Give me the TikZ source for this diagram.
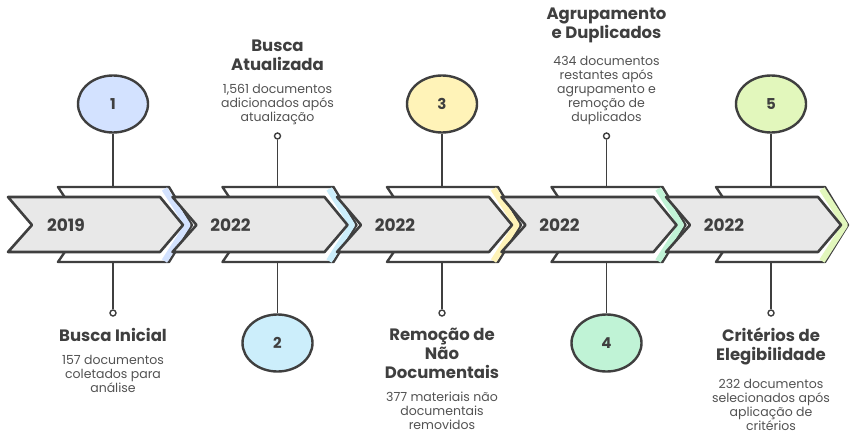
\documentclass[tikz,border=0pt]{standalone}
\usepackage{fontspec}
\setmainfont{Poppins}
\usetikzlibrary{shapes.geometric,positioning}
\definecolor{ink}{HTML}{3F3F3F}
\definecolor{bandgray}{HTML}{E8E8E8}
\definecolor{blueone}{HTML}{D3E2FF}
\definecolor{bluetwo}{HTML}{CCEEFB}
\definecolor{yellowthree}{HTML}{FFF3B8}
\definecolor{mintfour}{HTML}{C0F3D6}
\definecolor{limefive}{HTML}{E2F7BC}

\begin{document}
\begin{tikzpicture}[x=1pt,y=-1pt,
    bandback/.style={draw=ink,line width=2.4pt,fill=white,line join=round},
    bandfront/.style={draw=ink,line width=2.6pt,fill=bandgray,line join=round},
    accent/.style={line width=6pt,line join=round},
    yearlabel/.style={text=ink,font=\bfseries\fontsize{17}{20}\selectfont},
    stepcircle/.style={ellipse,draw=ink,line width=2.4pt,minimum width=70pt,minimum height=57pt,inner sep=0pt,text=ink,font=\bfseries\fontsize{15}{17}\selectfont},
    pin/.style={circle,draw=ink,line width=1.4pt,fill=white,minimum size=6pt,inner sep=0pt},
    stemline/.style={draw=ink,line width=1.5pt},
    steptitle/.style={align=center,inner sep=0pt,text=ink,font=\bfseries\fontsize{16.5}{19}\selectfont},
    stepnote/.style={align=center,inner sep=0pt,text=ink!90,font=\fontsize{12.5}{14}\selectfont},
    node distance=13pt]
    \useasboundingbox (0,0) rectangle (850,433);

    \draw[bandback] (58,187) -- (169,187) -- (192,225) -- (169,262) -- (58,262) -- (83,225) -- cycle;
    \draw[accent,draw=blueone] (164.5,189) -- (187.5,225) -- (164.5,261);
    \draw[bandfront] (8,197) -- (160,197) -- (183,225) -- (160,252) -- (8,252) -- (32,225) -- cycle;
    \node[yearlabel] (y1) at (66,225) {2019};

    \draw[bandback] (222.5,187) -- (333.5,187) -- (356.5,225) -- (333.5,262) -- (222.5,262) -- (247.5,225) -- cycle;
    \draw[accent,draw=bluetwo] (329,189) -- (352,225) -- (329,261);
    \draw[bandfront] (172.5,197) -- (324.5,197) -- (347.5,225) -- (324.5,252) -- (172.5,252) -- (196.5,225) -- cycle;
    \node[yearlabel] (y2) at (230.5,225) {2022};

    \draw[bandback] (387,187) -- (498,187) -- (521,225) -- (498,262) -- (387,262) -- (412,225) -- cycle;
    \draw[accent,draw=yellowthree] (493.5,189) -- (516.5,225) -- (493.5,261);
    \draw[bandfront] (337,197) -- (489,197) -- (512,225) -- (489,252) -- (337,252) -- (361,225) -- cycle;
    \node[yearlabel] (y3) at (395,225) {2022};

    \draw[bandback] (551.5,187) -- (662.5,187) -- (685.5,225) -- (662.5,262) -- (551.5,262) -- (576.5,225) -- cycle;
    \draw[accent,draw=mintfour] (658,189) -- (681,225) -- (658,261);
    \draw[bandfront] (501.5,197) -- (653.5,197) -- (676.5,225) -- (653.5,252) -- (501.5,252) -- (525.5,225) -- cycle;
    \node[yearlabel] (y4) at (559.5,225) {2022};

    \draw[bandback] (716,187) -- (825,187) -- (848,225) -- (825,262) -- (716,262) -- (741,225) -- cycle;
    \draw[accent,draw=limefive] (822,189) -- (845,225) -- (822,261);
    \draw[bandfront] (666,197) -- (818,197) -- (841,225) -- (818,252) -- (666,252) -- (690,225) -- cycle;
    \node[yearlabel] (y5) at (724,225) {2022};

    \node[stepcircle,fill=blueone] (c1) at (113,104) {1};
    \coordinate (t1) at (113,187);
    \coordinate (b1) at (113,262);
    \node[pin] (p1) at (113,313) {};
    \draw[stemline] (c1) -- (t1);
    \draw[stemline] (b1) -- (p1);
    \node[steptitle,anchor=north] (h1) at (113,328) {Busca Inicial};
    \node[stepnote,below=of h1] (n1) {157 documentos\\coletados para\\análise};

    \node[stepcircle,fill=bluetwo] (c2) at (277.5,343) {2};
    \node[pin] (p2) at (277.5,136) {};
    \coordinate (t2) at (277.5,187);
    \coordinate (b2) at (277.5,262);
    \draw[stemline] (p2) -- (t2);
    \draw[stemline] (b2) -- (c2);
    \node[stepnote,anchor=south] (n2) at (277.5,125) {1,561 documentos\\adicionados após\\atualização};
    \node[steptitle,above=of n2] (h2) {Busca\\Atualizada};

    \node[stepcircle,fill=yellowthree] (c3) at (442,104) {3};
    \coordinate (t3) at (442,187);
    \coordinate (b3) at (442,262);
    \node[pin] (p3) at (442,313) {};
    \draw[stemline] (c3) -- (t3);
    \draw[stemline] (b3) -- (p3);
    \node[steptitle,anchor=north] (h3) at (442,328) {Remoção de\\Não\\Documentais};
    \node[stepnote,below=of h3] (n3) {377 materiais não\\documentais\\removidos};

    \node[stepcircle,fill=mintfour] (c4) at (606.5,343) {4};
    \node[pin] (p4) at (606.5,136) {};
    \coordinate (t4) at (606.5,187);
    \coordinate (b4) at (606.5,262);
    \draw[stemline] (p4) -- (t4);
    \draw[stemline] (b4) -- (c4);
    \node[stepnote,anchor=south] (n4) at (606.5,125) {434 documentos\\restantes após\\agrupamento e\\remoção de\\duplicados};
    \node[steptitle,above=of n4] (h4) {Agrupamento\\e Duplicados};

    \node[stepcircle,fill=limefive] (c5) at (771,104) {5};
    \coordinate (t5) at (771,187);
    \coordinate (b5) at (771,262);
    \node[pin] (p5) at (771,313) {};
    \draw[stemline] (c5) -- (t5);
    \draw[stemline] (b5) -- (p5);
    \node[steptitle,anchor=north] (h5) at (771,328) {Critérios de\\Elegibilidade};
    \node[stepnote,below=of h5] (n5) {232 documentos\\selecionados após\\aplicação de\\critérios};
\end{tikzpicture}
\end{document}
